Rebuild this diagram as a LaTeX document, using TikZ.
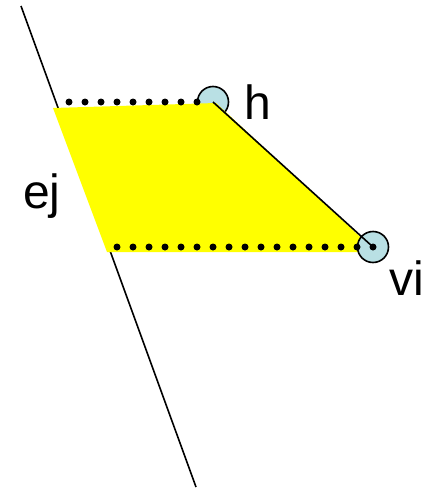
\documentclass[tikz,border=0pt]{standalone}
\usepackage{fontspec}
\setmainfont{Liberation Sans}
\usetikzlibrary{positioning}
\definecolor{jointBlue}{RGB}{185,224,228}
\definecolor{areaYellow}{RGB}{255,255,0}

\begin{document}
\begin{tikzpicture}[x=1pt, y=-1pt,
    joint/.style={circle, draw=black, line width=1.6pt, fill=jointBlue,
    minimum size=31pt, inner sep=0pt},
    edgeline/.style={line width=1.6pt, color=black},
    dotrow/.style={line width=7pt, line cap=round, dash pattern=on 0pt off 16pt},
    lbl/.style={font=\fontsize{48}{48}\selectfont, inner sep=0pt}
]
\useasboundingbox (0,0) rectangle (423,490);
% the edge ej
\coordinate (ejtop) at (21,6);
\coordinate (ejbot) at (196,487);
\draw[edgeline] (ejtop) -- (ejbot);
% joint h (lower half hidden by the area)
\node[joint] (hpt) at (213,102) {};
% the yellow area
\fill[areaYellow] (53,108) -- (216,103) -- (370,246) -- (370,252) -- (107,252) -- cycle;
% joint vi
\node[joint] (vipt) at (373,247) {};
\draw[edgeline] (hpt.center) -- (vipt.center);
% dotted rows
\coordinate (topstart) at (69,102);
\coordinate (botstart) at (117,247);
\draw[dotrow] (topstart) -- (hpt.center);
\draw[dotrow] (botstart) -- (vipt.center);
% labels
\node[lbl, anchor=base west] (hlbl) at (244,119) {h};
\node[lbl, anchor=base west] (vilbl) at (389,295) {vi};
\node[lbl, anchor=base west] (ejlbl) at (23,208) {ej};
\end{tikzpicture}
\end{document}
